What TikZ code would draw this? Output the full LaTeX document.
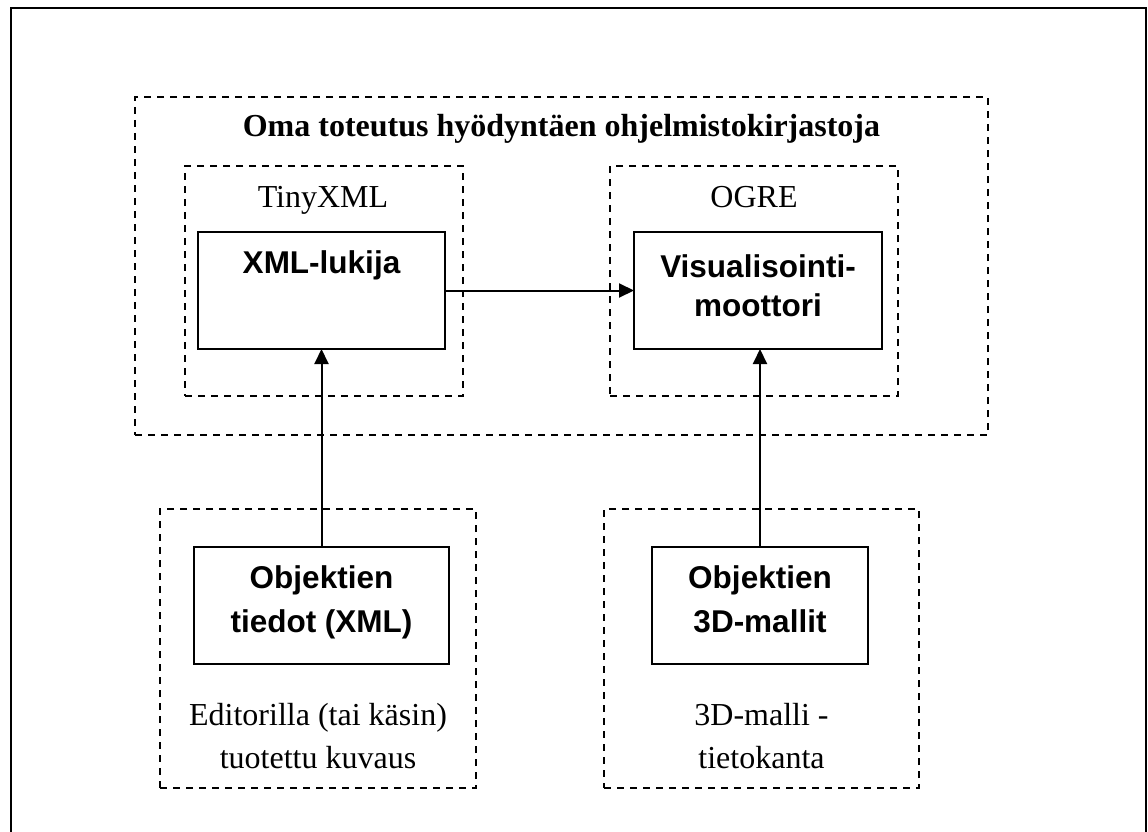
\documentclass[tikz,border=0pt]{standalone}
\usepackage{fontspec}
\setmainfont{Liberation Serif}
\newfontfamily\labelsans{Liberation Sans}
\usetikzlibrary{arrows.meta}
\begin{document}
\begin{tikzpicture}[x=1pt,y=-1pt,
  frame/.style={draw, line width=2pt},
  group/.style={draw, line width=1.6pt, dash pattern=on 7pt off 6pt,
                inner sep=0pt, outer sep=0pt},
  block/.style={draw, line width=2pt, inner sep=0pt, outer sep=0pt},
  flow/.style={line width=2pt, -{Triangle[length=15pt,width=14pt]}},
  serif/.style={font=\fontsize{32}{38}\selectfont, anchor=base, inner sep=0pt},
  title/.style={font=\fontsize{32}{38}\selectfont\bfseries, anchor=base, inner sep=0pt},
  sans/.style={font=\fontsize{31.5}{37}\selectfont\labelsans\bfseries, anchor=base, inner sep=0pt},
]
\useasboundingbox (0,0) rectangle (1148,832);
\clip (0,0) rectangle (1148,832);

% page frame (its lower edge runs off the page)
\draw[frame] (11,8) rectangle (1146,860);

% own implementation built on libraries
\node[group, minimum width=853pt, minimum height=338pt] (core) at (561.5,266) {};
\node[title] (coretitle) at (561.5,136) {Oma toteutus hyödyntäen ohjelmistokirjastoja};

% TinyXML library
\node[group, minimum width=278pt, minimum height=230pt] (tinyxml) at (324,281) {};
\node[serif] (tinyxmllabel) at (323,207) {TinyXML};
\node[block, minimum width=247pt, minimum height=117pt] (reader) at (321.5,290.5) {};
\node[sans] (readerlabel) at (321.5,273) {XML-lukija};

% OGRE library
\node[group, minimum width=288pt, minimum height=230pt] (ogre) at (754,281) {};
\node[serif] (ogrelabel) at (754,207) {OGRE};
\node[block, minimum width=248pt, minimum height=117pt] (engine) at (758,290.5) {};
\node[sans] (enginelabel1) at (758,277) {Visualisointi-};
\node[sans] (enginelabel2) at (758,316) {moottori};

% object descriptions made with an editor
\node[group, minimum width=316pt, minimum height=279pt] (editor) at (318,648.5) {};
\node[block, minimum width=255pt, minimum height=117pt] (objdata) at (321.5,605.5) {};
\node[sans] (objdatalabel1) at (321.5,588) {Objektien};
\node[sans] (objdatalabel2) at (321.5,632) {tiedot (XML)};
\node[serif] (editorlabel1) at (318,725) {Editorilla (tai käsin)};
\node[serif] (editorlabel2) at (318,768) {tuotettu kuvaus};

% 3D model database
\node[group, minimum width=315pt, minimum height=279pt] (modeldb) at (761.5,648.5) {};
\node[block, minimum width=216pt, minimum height=117pt] (models) at (760,605.5) {};
\node[sans] (modelslabel1) at (760,588) {Objektien};
\node[sans] (modelslabel2) at (760,632) {3D-mallit};
\node[serif] (modeldblabel1) at (761.5,725) {3D-malli -};
\node[serif] (modeldblabel2) at (761.5,768) {tietokanta};

% data flow
\draw[flow] (reader.east) -- (engine.west);
\draw[flow] (objdata.north) -- (reader.south);
\draw[flow] (models.north) -- (models.north |- engine.south);
\end{tikzpicture}
\end{document}
